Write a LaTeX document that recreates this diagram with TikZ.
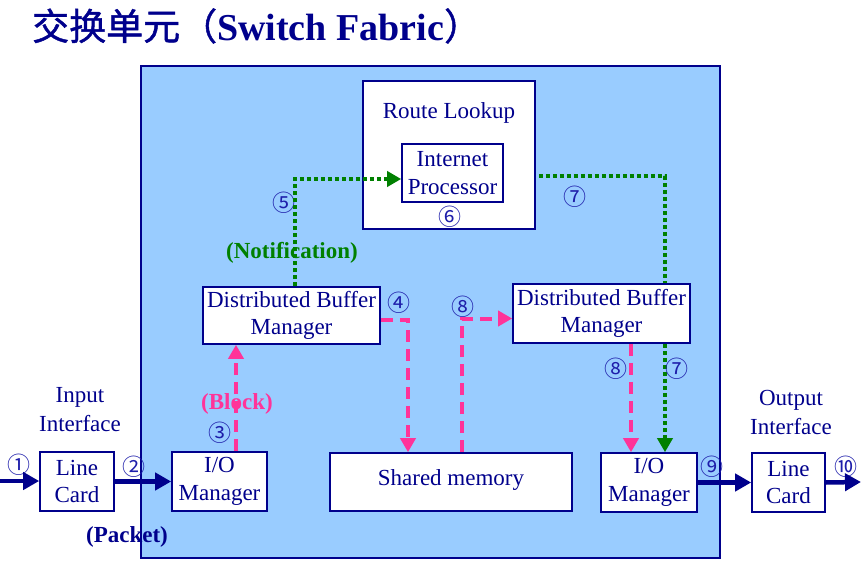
\documentclass[tikz,border=0pt]{standalone}
\usepackage{fontspec}
\setmainfont{Liberation Serif}
\newfontfamily\cjk{Noto Sans CJK SC}
\newfontfamily\cjkbold[FakeBold=1.2]{Noto Sans CJK SC}
\usetikzlibrary{arrows.meta,backgrounds}
\definecolor{navyt}{RGB}{0,0,140}
\definecolor{numblue}{RGB}{30,30,170}
\definecolor{panelblue}{RGB}{153,204,255}
\definecolor{pinkc}{RGB}{255,51,153}
\definecolor{greenc}{RGB}{0,128,0}
\tikzset{
  box/.style={draw=navyt, line width=1.6pt, fill=white, inner sep=0pt, align=center,
    text=navyt, font=\fontsize{23}{27.5}\selectfont},
  plain/.style={text=navyt, align=center, font=\fontsize{23}{29}\selectfont},
  num/.style={text=numblue, font=\cjk\fontsize{23}{23}\selectfont, inner sep=0pt},
  bolda/.style={font=\bfseries\fontsize{23}{26}\selectfont, inner sep=0pt},
  thick arrow/.style={draw=navyt, line width=4.5pt, -{Triangle[length=16pt,width=17pt]}},
  pinkdash/.style={draw=pinkc, line width=4pt, dash pattern=on 12pt off 7pt, -{Triangle[length=14pt,width=15pt]}},
  greendot/.style={draw=greenc, line width=4.5pt, dash pattern=on 4pt off 3pt, -{Triangle[length=14pt,width=15pt]}},
}
\begin{document}
\begin{tikzpicture}[x=1pt,y=-1pt]
\useasboundingbox (0,0) rectangle (863,581);
% title
\node[anchor=base west, inner sep=0pt, text=navyt] (title) at (32,40)
  {\cjkbold\fontsize{37}{37}\selectfont 交换单元（{\rmfamily\bfseries\fontsize{38}{38}\selectfont Switch Fabric}）};
% panel
\begin{pgfonlayer}{background}
\draw[fill=panelblue, draw=navyt, line width=1.5pt] (141,66) rectangle (720,558);
\end{pgfonlayer}
% boxes
\node[box, minimum width=172pt, minimum height=148pt] (lookup) at (449,155) {};
\node[plain, inner sep=0pt] (lookuplbl) at (449,113) {Route Lookup};
\node[box, minimum width=101pt, minimum height=58pt] (ip) at (452.5,173) {Internet\\Processor};
\node[box, minimum width=177pt, minimum height=57pt] (dbmL) at (291.5,315.5) {Distributed Buffer\\Manager};
\node[box, minimum width=177pt, minimum height=59pt] (dbmR) at (601.5,313.5) {Distributed Buffer\\Manager};
\node[box, minimum width=95pt, minimum height=59pt] (ioL) at (219.5,481.5) {I/O\\Manager};
\node[box, minimum width=74pt, minimum height=59pt] (lcL) at (77,481.5) {Line\\Card};
\node[box, minimum width=242pt, minimum height=58pt] (shm) at (451,482) {\raisebox{8pt}{Shared memory}};
\node[box, minimum width=96pt, minimum height=59pt] (ioR) at (649,482.5) {I/O\\Manager};
\node[box, minimum width=73pt, minimum height=59pt] (lcR) at (788.5,482.5) {Line\\Card};
% outside labels
\node[plain] (inif) at (80,410) {Input\\Interface};
\node[plain] (outif) at (791,412) {Output\\Interface};
\node[bolda, text=navyt] (packet) at (127,537) {(Packet)};
\node[bolda, text=pinkc] (block) at (237,404) {(Block)};
\node[bolda, text=greenc] (notif) at (292,253) {(Notification)};
% numbers
\node[num] (n1) at (19,465) {①};
\node[num] (n2) at (134,467) {②};
\node[num] (n3) at (220,433) {③};
\node[num] (n4) at (399,303) {④};
\node[num] (n5) at (284,203) {⑤};
\node[num] (n6) at (450,217) {⑥};
\node[num] (n7a) at (575,197) {⑦};
\node[num] (n7b) at (677,369) {⑦};
\node[num] (n8a) at (463,307) {⑧};
\node[num] (n8b) at (616,369) {⑧};
\node[num] (n9) at (712,467) {⑨};
\node[num] (n10) at (846,467) {⑩};
% navy arrows
\coordinate (inend) at (0,481);
\coordinate (outend) at (863,482);
\draw[thick arrow] (inend) -- (lcL.west |- inend);
\draw[thick arrow] (lcL.east) -- (ioL.west);
\draw[thick arrow] (ioR.east) -- (lcR.west);
\draw[thick arrow] (lcR.east) -- (outend -| 861,0);
% pink dashed
\draw[pinkdash] (ioL.north -| 236,0) -- (dbmL.south -| 236,0);
\draw[pinkdash] ([yshift=-4pt]dbmL.east) -| (shm.north -| 408,0);
\draw[pinkdash] (shm.north -| 462,0) |- ([yshift=-5pt]dbmR.west);
\draw[pinkdash] (dbmR.south -| 631,0) -- (ioR.north -| 631,0);
% green dotted
\draw[greendot] (dbmL.north -| 295,0) |- ([yshift=-6pt]ip.west);
\begin{pgfonlayer}{background}
\draw[greendot] ([yshift=-3pt]ip.east) -| (ioR.north -| 665,0);
\end{pgfonlayer}
\end{tikzpicture}
\end{document}
